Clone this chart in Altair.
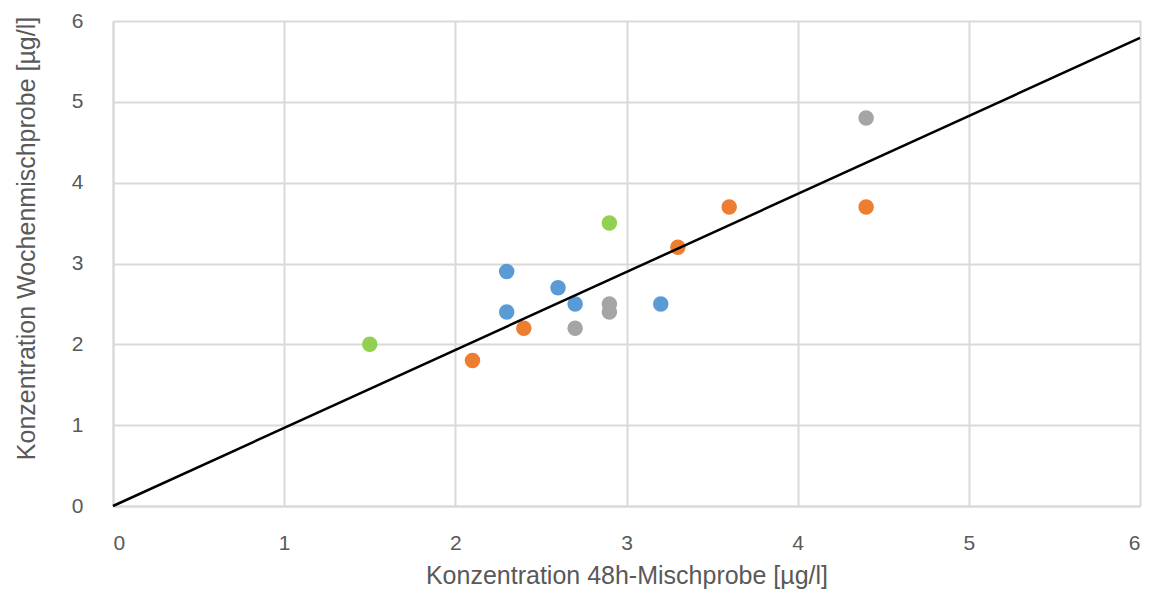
import altair as alt
import pandas as pd

series = ["A", "A", "A", "A", "A",
          "B", "B", "B", "B", "B",
          "C", "C", "C", "C",
          "D", "D"]
x_vals = [2.3, 2.3, 2.6, 2.7, 3.2,
          2.1, 2.4, 3.3, 3.6, 4.4,
          2.7, 2.9, 2.9, 4.4,
          1.5, 2.9]
y_vals = [2.9, 2.4, 2.7, 2.5, 2.5,
          1.8, 2.2, 3.2, 3.7, 3.7,
          2.2, 2.5, 2.4, 4.8,
          2.0, 3.5]
colors = ["#5B9BD5", "#ED7D31", "#A5A5A5", "#92D050"]

line_x = [0, 6]
line_y = [0, 5.79]

pts = pd.DataFrame({"x": x_vals, "y": y_vals, "s": series})
ln = pd.DataFrame({"x": line_x, "y": line_y})

xs = alt.Scale(domain=[0, 6], nice=False, zero=True)
ys = alt.Scale(domain=[0, 6], nice=False, zero=True)

FONT = "Liberation Sans"

x_axis = alt.Axis(title="Konzentration 48h-Mischprobe [µg/l]", values=[0, 1, 2, 3, 4, 5, 6],
                  format="d", labelFontSize=21, titleFontSize=25, labelPadding=26,
                  titlePadding=10, titleFontWeight="normal", labelColor="#595959",
                  titleColor="#595959", tickSize=0, domainColor="#d9d9d9", domainWidth=2,
                  gridColor="#d9d9d9", gridWidth=2, labelFont=FONT, titleFont=FONT)
y_axis = alt.Axis(title="Konzentration Wochenmischprobe [µg/l]", values=[0, 1, 2, 3, 4, 5, 6],
                  format="d", labelFontSize=21, titleFontSize=25, labelPadding=30,
                  titlePadding=32, titleY=217, titleFontWeight="normal", labelColor="#595959",
                  titleColor="#595959", tickSize=0, domainColor="#d9d9d9", domainWidth=2,
                  gridColor="#d9d9d9", gridWidth=2, labelFont=FONT, titleFont=FONT)

points = alt.Chart(pts).mark_circle(size=240, opacity=1).encode(
    x=alt.X("x:Q", scale=xs, axis=x_axis),
    y=alt.Y("y:Q", scale=ys, axis=y_axis),
    color=alt.Color("s:N", scale=alt.Scale(domain=["A", "B", "C", "D"], range=colors), legend=None),
)

line = alt.Chart(ln).mark_line(color="black", strokeWidth=2.5).encode(
    x=alt.X("x:Q", scale=xs),
    y=alt.Y("y:Q", scale=ys),
)

chart = alt.layer(points, line).properties(
    width=1027, height=485,
    autosize=alt.AutoSizeParams(type="none"),
    padding={"left": 105, "top": 13, "right": 8, "bottom": 86},
).configure_view(stroke="#d9d9d9", strokeWidth=2).configure(background="white")

chart.save("out.html", embed_options={"renderer": "svg", "actions": False})
